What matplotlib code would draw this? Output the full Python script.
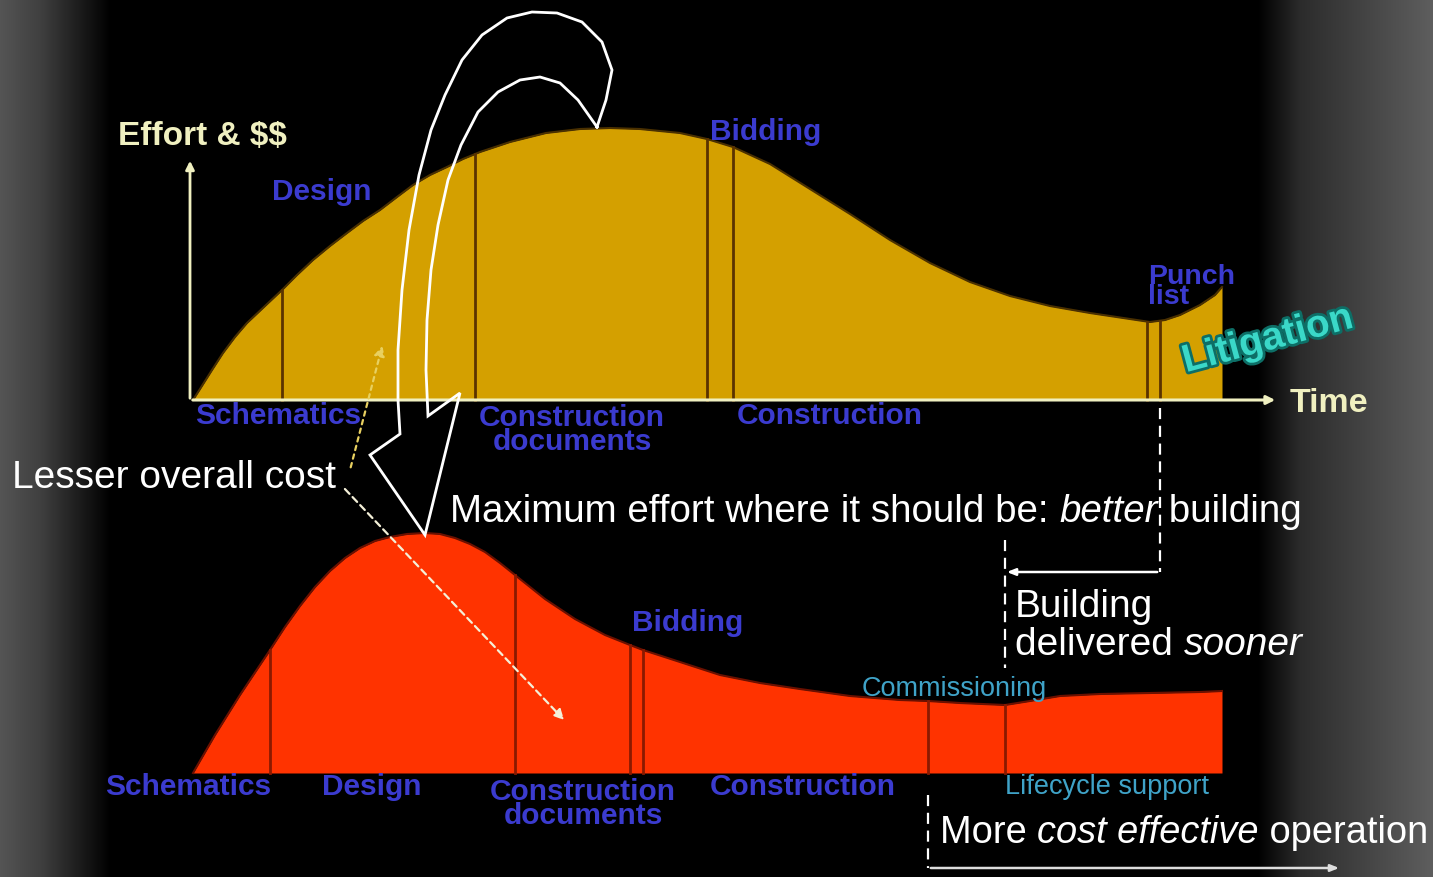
import matplotlib
matplotlib.use("Agg")
import matplotlib.pyplot as plt
import matplotlib.patheffects as pe
import numpy as np

# top chart: traditional delivery, time position vs effort (px above its baseline)
top_time = [193, 200, 212, 223, 235, 247, 265, 282, 297, 313, 330, 347, 363, 380,
            397, 413, 430, 447, 463, 480, 510, 546, 580, 610, 640, 680, 707, 733,
            770, 810, 850, 890, 930, 970, 1010, 1050, 1090, 1130, 1150, 1165, 1180,
            1200, 1215, 1222]
top_effort = [0, 11, 30, 47, 63, 77, 94, 110, 125, 140, 154, 167, 179, 190,
              203, 215, 225, 233, 241, 248, 258, 267, 271, 272, 271, 267, 261, 253,
              236, 211, 186, 160, 137, 118, 104, 94, 87, 81, 78, 80, 85,
              95, 105, 113]
top_phase_lines = [282, 475, 707, 733, 1147, 1160]

# bottom chart: integrated delivery
bottom_time = [193, 215, 240, 270, 285, 300, 315, 330, 345, 360, 375, 390, 407, 425,
               440, 455, 470, 485, 500, 515, 545, 575, 605, 630, 643, 680, 720, 760,
               800, 850, 900, 928, 960, 1005, 1030, 1060, 1100, 1150, 1200, 1222]
bottom_effort = [0, 38, 78, 123, 146, 167, 186, 202, 215, 225, 232, 236, 239, 240,
                 239, 235, 229, 221, 210, 198, 174, 154, 138, 128, 123, 111, 98, 90,
                 84, 77, 73, 72, 70, 68, 72, 77, 79, 80, 81, 82]
bottom_phase_lines = [270, 515, 630, 643, 928, 1005]

TOP_BASE = 400
BOT_BASE = 773

BLUE = "#3b3bcf"
CYAN = "#3fa3c8"
PALE = "#f0f0c0"
ARIAL = ["Liberation Sans", "DejaVu Sans"]

fig = plt.figure(figsize=(14.33, 8.77), dpi=100)
ax = fig.add_axes([0, 0, 1, 1])
ax.set_xlim(0, 1433)
ax.set_ylim(877, 0)
ax.axis("off")

# dark background with grey fade on both edges
cols = np.arange(1433)
gray = np.interp(cols, [0, 40, 110, 1258, 1300, 1433], [0.33, 0.25, 0.0, 0.0, 0.17, 0.37])
bg = np.dstack([gray, gray, gray])
ax.imshow(bg, extent=[0, 1433, 877, 0], aspect="auto", zorder=0)

# top curve
tt = np.array(top_time)
te = np.array(top_effort)
ax.fill_between(tt, TOP_BASE, TOP_BASE - te, color="#d4a000", lw=0, zorder=2)
ax.plot(tt, TOP_BASE - te, color="#4a3000", lw=1.5, zorder=3)
for x in top_phase_lines:
    h = np.interp(x, tt, te)
    ax.plot([x, x], [TOP_BASE, TOP_BASE - h], color="#5a3300", lw=2, zorder=3)

# top axes
ax.annotate("", xy=(1278, TOP_BASE), xytext=(190, TOP_BASE),
            arrowprops=dict(arrowstyle="-|>,head_length=0.5,head_width=0.25",
                            color=PALE, lw=2.2), zorder=4)
ax.annotate("", xy=(190, 158), xytext=(190, TOP_BASE + 1),
            arrowprops=dict(arrowstyle="-|>,head_length=0.5,head_width=0.25",
                            color=PALE, lw=2), zorder=4)

# bottom curve
bt = np.array(bottom_time)
be = np.array(bottom_effort)
ax.fill_between(bt, BOT_BASE, BOT_BASE - be, color="#ff3300", lw=0, zorder=2)
ax.plot(bt, BOT_BASE - be, color="#6a1000", lw=1.5, zorder=3)
for x in bottom_phase_lines:
    h = np.interp(x, bt, be)
    ax.plot([x, x], [BOT_BASE, BOT_BASE - h], color="#8a1a00", lw=2, zorder=3)

# big curved arrow moving the peak effort earlier
arrow_x = [597, 606, 612, 602, 582, 557, 532, 507, 482, 462, 445, 431, 419, 409,
           402, 398, 398, 400, 370, 425, 460, 428, 426, 427, 431, 438, 448, 461,
           478, 498, 520, 540, 560, 578, 597]
arrow_y = [127, 100, 70, 42, 22, 13, 12, 18, 35, 60, 95, 130, 175, 230,
           290, 350, 400, 434, 455, 535, 393, 416, 370, 320, 270, 225, 180, 145,
           112, 92, 80, 77, 83, 100, 127]
ax.plot(arrow_x, arrow_y, color="white", lw=2, zorder=6, solid_joinstyle="miter")

# small pointers from "Lesser overall cost"
ax.annotate("", xy=(383, 343), xytext=(350, 470),
            arrowprops=dict(arrowstyle="-|>,head_length=0.6,head_width=0.3",
                            color="#e8d060", lw=1.6, linestyle=(0, (2, 2))), zorder=6)
ax.annotate("", xy=(566, 722), xytext=(343, 487),
            arrowprops=dict(arrowstyle="-|>,head_length=0.6,head_width=0.3",
                            color="#f4f0d8", lw=1.6, linestyle=(0, (3, 2))), zorder=6)

# dashed markers for schedule and operation
dash = (0, (5, 3))
ax.plot([1160, 1160], [408, 572], color="white", lw=1.6, linestyle=dash, zorder=5)
ax.plot([1005, 1005], [540, 668], color="white", lw=1.6, linestyle=dash, zorder=5)
ax.annotate("", xy=(1004, 572), xytext=(1160, 572),
            arrowprops=dict(arrowstyle="-|>,head_length=0.5,head_width=0.2",
                            color="white", lw=1.8), zorder=5)
ax.plot([928, 928], [795, 868], color="white", lw=1.6, linestyle=dash, zorder=5)
ax.annotate("", xy=(1342, 868), xytext=(928, 868),
            arrowprops=dict(arrowstyle="-|>,head_length=0.5,head_width=0.2",
                            color="#dddddd", lw=1.8), zorder=5)

# phase labels
lab = dict(color=BLUE, fontsize=21.5, fontweight="bold", family=ARIAL, va="center", zorder=7)
ax.text(272, 192, "Design", **lab)
ax.text(710, 132, "Bidding", **lab)
ax.text(1148, 287, "Punch\nlist", linespacing=0.72, **{**lab, "fontsize": 20.5})
ax.text(195, 416, "Schematics", **lab)
ax.text(572, 430, "Construction\ndocuments", ha="center", linespacing=0.8, **lab)
ax.text(737, 416, "Construction", **lab)

ax.text(105, 787, "Schematics", **lab)
ax.text(322, 787, "Design", **lab)
ax.text(583, 804, "Construction\ndocuments", ha="center", linespacing=0.8, **lab)
ax.text(710, 787, "Construction", **lab)
ax.text(632, 623, "Bidding", **lab)

ax.text(862, 689, "Commissioning", color=CYAN, fontsize=19.5, family=ARIAL,
        va="center", zorder=7)
ax.text(1005, 787, "Lifecycle support", color=CYAN, fontsize=19.5, family=ARIAL,
        va="center", zorder=7)

ax.text(1268, 340, "Litigation", color="#3ad8c8", fontsize=28, fontweight="bold",
        family=ARIAL, rotation=15, ha="center", va="center", zorder=7,
        path_effects=[pe.withStroke(linewidth=4, foreground="#0d6e66")])

ax.text(118, 137, r"Effort & \$\$", color=PALE, fontsize=24, fontweight="bold",
        family=ARIAL, va="center", zorder=7)
ax.text(1290, 404, "Time", color=PALE, fontsize=24.5, fontweight="bold",
        family=ARIAL, va="center", zorder=7)

# white message text, with italic words
renderer = fig.canvas.get_renderer()


def rich_text(x, y, parts, **kw):
    for s, style in parts:
        t = ax.text(x, y, s, style=style, **kw)
        bb = t.get_window_extent(renderer=renderer)
        x = ax.transData.inverted().transform((bb.x1, bb.y0))[0]


msg = dict(color="white", fontsize=28, family=ARIAL, va="center", zorder=8)
ax.text(12, 478, "Lesser overall cost", **msg)
rich_text(450, 512, [("Maximum effort where it should be: ", "normal"),
                     ("better", "italic"), (" building", "normal")],
          **{**msg, "fontsize": 27.7})
ax.text(1015, 607, "Building", **msg)
rich_text(1015, 645, [("delivered ", "normal"), ("sooner", "italic")], **msg)
rich_text(940, 833, [("More ", "normal"), ("cost effective", "italic"),
                     (" operation", "normal")], **{**msg, "fontsize": 27.4})

fig.savefig("out.png", dpi=100, facecolor="black")
